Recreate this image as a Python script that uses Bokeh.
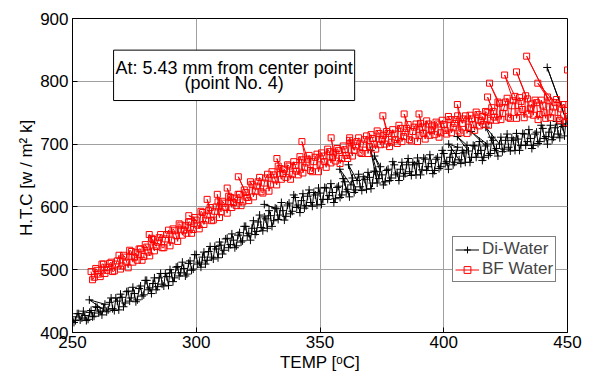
from bokeh.plotting import figure
from bokeh.models import Range1d, FixedTicker, Legend, LegendItem, Label
from bokeh.embed import file_html
from bokeh.resources import INLINE

FONT = "Liberation Sans"

x_ticks = [250, 300, 350, 400, 450]
y_ticks = [400, 500, 600, 700, 800, 900]

x_label_text = "TEMP [\u1d52C]"
y_label_text = "H.T.C  [w / m\u00b2 k]"
note_text = "At: 5.43 mm from center point\n(point No. 4)"
series_names = ["Di-Water", "BF Water"]

di_temp = [
    250.0, 250.6, 251.2, 251.9, 252.5, 253.1, 253.8, 254.4, 255.0, 255.6,
    256.3, 256.9, 257.5, 258.1, 258.7, 259.4, 260.0, 260.6, 261.2, 261.9,
    262.5, 263.1, 256.8, 263.8, 264.4, 265.0, 265.6, 266.2, 266.9, 267.5,
    268.1, 268.7, 269.4, 270.0, 270.6, 271.3, 271.9, 272.5, 273.1, 273.7,
    274.4, 275.0, 275.6, 276.2, 276.9, 277.5, 278.1, 278.8, 279.4, 280.0,
    280.6, 281.2, 281.9, 282.5, 283.1, 283.8, 284.4, 285.0, 285.6, 286.2,
    286.9, 287.5, 288.1, 288.8, 289.4, 290.0, 290.6, 291.2, 291.9, 292.5,
    293.1, 293.7, 294.4, 295.0, 295.6, 296.2, 296.9, 297.5, 298.1, 298.8,
    299.4, 300.0, 300.6, 301.3, 301.9, 302.5, 303.1, 303.7, 304.4, 305.0,
    305.6, 306.2, 306.9, 307.5, 308.1, 308.8, 309.4, 310.0, 310.6, 311.2,
    311.9, 312.5, 313.1, 313.8, 314.4, 315.0, 315.6, 316.2, 316.9, 317.5,
    318.1, 318.7, 319.4, 320.0, 320.6, 321.2, 321.9, 322.5, 323.1, 323.8,
    324.4, 325.0, 325.6, 326.2, 326.9, 327.5, 328.1, 328.7, 329.4, 330.0,
    330.6, 331.3, 331.9, 327.5, 332.5, 333.1, 333.7, 334.4, 335.0, 335.6,
    336.2, 336.9, 337.5, 338.1, 338.8, 339.4, 340.0, 340.6, 341.2, 341.9,
    342.5, 343.1, 343.7, 344.4, 345.0, 345.6, 346.3, 346.9, 347.5, 348.1,
    348.8, 349.4, 350.0, 350.6, 351.2, 351.9, 352.5, 353.1, 353.7, 354.4,
    355.0, 355.6, 356.2, 356.9, 357.5, 358.1, 358.8, 359.4, 360.0, 360.6,
    361.2, 361.9, 358.0, 362.5, 363.1, 363.8, 364.4, 361.5, 365.0, 365.6,
    366.2, 366.9, 367.5, 368.1, 368.8, 369.4, 370.0, 370.6, 371.2, 371.9,
    372.5, 373.1, 370.5, 373.8, 374.4, 372.0, 375.0, 375.6, 376.3, 376.9,
    377.5, 378.1, 378.7, 379.4, 380.0, 380.6, 381.2, 381.9, 382.5, 383.1,
    383.8, 384.4, 385.0, 385.6, 386.2, 386.9, 387.5, 388.1, 388.8, 389.4,
    390.0, 390.6, 391.2, 391.9, 392.5, 393.1, 393.7, 394.4, 395.0, 395.6,
    396.3, 396.9, 397.5, 398.1, 398.8, 399.4, 400.0, 400.6, 401.2, 401.9,
    402.5, 403.1, 403.8, 404.4, 405.0, 405.6, 402.0, 406.2, 406.9, 407.5,
    408.1, 408.7, 409.4, 405.5, 410.0, 410.6, 411.2, 411.9, 412.5, 413.1,
    413.8, 414.4, 415.0, 415.6, 416.2, 416.9, 411.0, 417.5, 418.1, 418.8,
    419.4, 420.0, 420.6, 421.3, 421.9, 417.0, 422.5, 423.1, 423.7, 424.4,
    425.0, 425.6, 426.2, 426.9, 427.5, 428.1, 428.8, 429.4, 430.0, 430.6,
    431.2, 431.9, 432.5, 433.1, 433.8, 434.4, 435.0, 435.6, 436.2, 436.9,
    437.5, 438.1, 438.8, 439.4, 440.0, 440.6, 441.3, 441.9, 442.5, 443.1,
    443.8, 444.4, 445.0, 445.6, 446.2, 446.9, 447.5, 448.1, 448.8, 449.4,
    441.8, 450.0,
]
di_htc = [
    425, 416, 419, 430, 430, 420, 423, 434, 427, 419,
    421, 432, 435, 425, 426, 441, 440, 431, 434, 428,
    439, 445, 452, 433, 436, 448, 455, 438, 435, 455,
    450, 436, 461, 456, 441, 447, 465, 466, 450, 455,
    472, 462, 449, 452, 470, 474, 458, 460, 483, 483,
    468, 471, 462, 478, 487, 468, 473, 487, 494, 477,
    474, 494, 489, 475, 500, 495, 481, 487, 504, 505,
    490, 495, 512, 502, 490, 493, 510, 514, 499, 501,
    524, 524, 509, 512, 504, 520, 528, 509, 515, 529,
    537, 520, 517, 537, 533, 519, 544, 539, 525, 531,
    549, 550, 535, 540, 557, 547, 535, 538, 555, 559,
    544, 546, 569, 569, 554, 558, 547, 566, 578, 556,
    561, 576, 587, 567, 562, 584, 581, 566, 594, 586,
    569, 578, 598, 604, 597, 580, 587, 607, 594, 579,
    585, 603, 606, 589, 593, 619, 615, 599, 603, 591,
    610, 621, 598, 602, 617, 627, 607, 601, 623, 619,
    603, 630, 622, 604, 612, 631, 630, 612, 618, 637,
    623, 607, 613, 631, 633, 615, 619, 645, 640, 624,
    628, 616, 660, 635, 646, 623, 627, 667, 642, 652,
    632, 626, 648, 644, 628, 655, 647, 629, 638, 657,
    656, 638, 690, 645, 664, 681, 651, 635, 640, 658,
    660, 642, 646, 672, 667, 651, 654, 642, 660, 671,
    649, 653, 667, 677, 656, 650, 671, 667, 651, 678,
    669, 651, 659, 678, 676, 658, 664, 683, 669, 653,
    658, 676, 679, 661, 664, 690, 685, 669, 672, 660,
    679, 690, 667, 671, 685, 695, 700, 675, 669, 690,
    686, 671, 698, 712, 689, 671, 679, 698, 697, 679,
    685, 704, 690, 674, 679, 697, 720, 700, 682, 685,
    711, 706, 690, 693, 681, 727, 700, 711, 688, 692,
    706, 716, 695, 689, 710, 706, 690, 717, 708, 690,
    698, 717, 716, 698, 704, 723, 709, 693, 698, 716,
    719, 701, 704, 730, 725, 709, 712, 700, 719, 730,
    707, 711, 726, 736, 716, 710, 732, 728, 713, 740,
    822, 732,
]

bf_temp = [
    257.5, 258.1, 258.8, 259.4, 260.0, 260.6, 261.2, 261.9, 262.5, 263.1,
    263.8, 264.4, 265.0, 265.6, 266.2, 266.9, 267.5, 268.1, 268.8, 269.4,
    270.0, 270.6, 271.2, 271.9, 272.5, 273.1, 273.8, 274.4, 275.0, 275.6,
    276.2, 276.9, 277.5, 278.1, 278.8, 279.4, 280.0, 280.6, 281.2, 281.9,
    282.5, 283.1, 281.0, 283.8, 284.4, 285.0, 285.6, 286.2, 286.9, 287.5,
    288.1, 288.8, 289.4, 290.0, 290.6, 291.2, 291.9, 292.5, 293.1, 293.8,
    294.4, 295.0, 295.6, 296.2, 296.9, 297.5, 298.1, 298.8, 299.4, 297.0,
    300.0, 300.6, 301.2, 301.9, 302.5, 303.1, 303.8, 304.4, 305.0, 305.6,
    304.4, 306.2, 306.9, 307.5, 308.1, 308.8, 309.4, 308.5, 310.0, 310.6,
    311.2, 311.9, 312.5, 313.1, 313.8, 314.4, 312.5, 315.0, 315.6, 316.2,
    316.9, 317.5, 318.1, 318.8, 319.4, 317.0, 320.0, 320.6, 321.2, 321.9,
    322.5, 323.1, 323.8, 324.4, 325.0, 325.6, 326.2, 326.9, 327.5, 328.1,
    328.8, 329.4, 330.0, 330.6, 331.2, 331.9, 332.5, 333.1, 333.8, 334.4,
    332.6, 335.0, 335.6, 336.2, 336.9, 337.5, 338.1, 338.8, 339.4, 340.0,
    340.6, 341.2, 341.9, 342.5, 343.1, 343.8, 344.4, 342.7, 345.0, 345.6,
    346.2, 346.9, 347.5, 348.1, 348.8, 349.4, 350.0, 350.6, 351.2, 351.9,
    352.5, 353.1, 353.8, 354.4, 355.0, 355.6, 354.5, 356.2, 356.9, 357.5,
    358.1, 358.8, 359.4, 360.0, 360.6, 361.2, 361.9, 362.5, 363.1, 362.0,
    363.8, 364.4, 365.0, 365.6, 366.2, 366.9, 367.5, 368.1, 368.8, 369.4,
    370.0, 370.6, 371.2, 371.9, 372.5, 373.1, 373.8, 374.4, 375.0, 375.6,
    376.2, 376.9, 375.4, 377.5, 378.1, 378.8, 379.4, 380.0, 380.6, 381.2,
    381.9, 382.5, 383.1, 383.8, 384.4, 385.0, 385.6, 384.0, 386.2, 386.9,
    387.5, 388.1, 388.8, 389.4, 390.0, 390.6, 391.2, 391.9, 390.0, 392.5,
    393.1, 393.8, 394.4, 395.0, 395.6, 396.2, 396.9, 397.5, 398.1, 398.8,
    399.4, 400.0, 400.6, 401.2, 401.9, 402.5, 403.1, 403.8, 404.4, 405.0,
    405.6, 406.2, 406.9, 405.5, 407.5, 408.1, 408.8, 409.4, 410.0, 410.6,
    411.2, 411.9, 412.5, 413.1, 413.8, 414.4, 415.0, 415.6, 416.2, 416.9,
    417.5, 418.1, 418.8, 419.4, 417.7, 420.0, 420.6, 421.2, 421.9, 418.5,
    422.5, 423.1, 423.8, 424.4, 425.0, 425.6, 426.2, 426.9, 427.5, 428.1,
    424.6, 428.8, 429.4, 430.0, 430.6, 431.2, 431.9, 432.5, 433.1, 429.4,
    433.8, 434.4, 435.0, 435.6, 436.2, 436.9, 437.5, 438.1, 438.8, 439.4,
    440.0, 440.6, 441.2, 441.9, 433.5, 442.5, 443.1, 443.8, 444.4, 438.0,
    445.0, 445.6, 446.2, 446.9, 447.5, 448.1, 448.8, 449.4, 450.0, 450.0,
]
bf_htc = [
    497, 484, 488, 502, 499, 493, 489, 509, 509, 494,
    499, 504, 510, 512, 497, 498, 509, 514, 523, 501,
    506, 523, 520, 512, 503, 531, 529, 512, 520, 527,
    515, 533, 533, 515, 521, 540, 536, 528, 522, 550,
    548, 530, 556, 537, 544, 551, 556, 535, 535, 549,
    556, 563, 538, 547, 565, 562, 554, 545, 573, 571,
    555, 563, 570, 558, 576, 576, 558, 564, 583, 586,
    579, 571, 565, 593, 591, 572, 579, 587, 594, 599,
    612, 578, 579, 593, 600, 608, 583, 620, 592, 609,
    606, 599, 590, 617, 615, 599, 630, 607, 614, 602,
    620, 620, 602, 608, 627, 648, 623, 615, 610, 640,
    636, 616, 625, 633, 640, 647, 624, 622, 638, 646,
    652, 625, 636, 656, 651, 643, 635, 665, 661, 644,
    677, 653, 660, 647, 667, 665, 644, 652, 672, 666,
    657, 651, 680, 675, 654, 663, 670, 704, 676, 682,
    658, 656, 672, 679, 684, 656, 667, 686, 681, 672,
    663, 692, 688, 670, 679, 686, 710, 673, 693, 690,
    669, 677, 697, 691, 682, 677, 706, 702, 681, 710,
    690, 697, 704, 710, 687, 685, 700, 707, 713, 685,
    696, 715, 709, 700, 692, 721, 717, 699, 707, 714,
    700, 720, 745, 717, 696, 703, 723, 716, 707, 701,
    730, 725, 704, 712, 719, 725, 731, 748, 707, 705,
    720, 727, 732, 704, 714, 733, 727, 717, 748, 708,
    737, 732, 714, 722, 729, 715, 735, 732, 711, 718,
    738, 731, 722, 716, 744, 739, 718, 726, 733, 739,
    745, 721, 718, 763, 733, 740, 745, 717, 727, 746,
    740, 731, 722, 751, 747, 729, 737, 744, 731, 752,
    750, 730, 738, 758, 775, 752, 743, 738, 767, 797,
    765, 739, 749, 758, 767, 773, 743, 741, 761, 769,
    810, 776, 741, 752, 774, 768, 755, 742, 777, 815,
    772, 748, 757, 764, 746, 770, 766, 739, 747, 770,
    762, 750, 741, 775, 840, 769, 742, 751, 759, 797,
    766, 771, 741, 738, 756, 763, 763, 734, 744, 818,
]

p = figure(width=592, height=375, output_backend="svg", toolbar_location=None,
           x_range=Range1d(250, 450), y_range=Range1d(400, 900),
           min_border_left=72, min_border_right=25, min_border_top=18,
           min_border_bottom=43, background_fill_color="white",
           border_fill_color="white")
p.outline_line_color = "black"
p.outline_line_width = 1

for ax in (p.xaxis[0], p.yaxis[0]):
    ax.major_label_text_font = FONT
    ax.major_label_text_font_size = "17px"
    ax.major_label_text_color = "black"
    ax.axis_label_text_font = FONT
    ax.axis_label_text_font_size = "17px"
    ax.axis_label_text_font_style = "normal"
    ax.axis_label_text_color = "black"
    ax.axis_line_color = "black"
    ax.major_tick_in = 5
    ax.major_tick_out = 0
    ax.minor_tick_in = 0
    ax.minor_tick_out = 0
    ax.major_tick_line_color = "black"

p.xaxis.ticker = FixedTicker(ticks=x_ticks)
p.yaxis.ticker = FixedTicker(ticks=y_ticks)
p.xaxis.axis_label = x_label_text
p.yaxis.axis_label = y_label_text
p.xaxis.major_label_standoff = 3
p.xaxis.axis_label_standoff = 2
p.yaxis.major_label_standoff = 4
p.yaxis.axis_label_standoff = 1

p.xgrid.grid_line_color = "#a0a0a0"
p.ygrid.grid_line_color = "#a0a0a0"
p.xgrid.grid_line_width = 1
p.ygrid.grid_line_width = 1

bl = p.line(di_temp, di_htc, line_color="black", line_width=1)
bs = p.scatter(di_temp, di_htc, marker="cross", size=8, line_color="black", line_width=1)
rl = p.line(bf_temp, bf_htc, line_color="#ff0000", line_width=1)
rs = p.scatter(bf_temp, bf_htc, marker="square", size=6, line_color="#ff0000",
               fill_alpha=0, line_width=1)

legend = Legend(items=[LegendItem(label=series_names[0], renderers=[bl, bs]),
                       LegendItem(label=series_names[1], renderers=[rl, rs])],
                location=(380, 50), label_text_font=FONT, label_text_font_size="17px",
                label_height=17, glyph_height=17, glyph_width=24, label_standoff=3,
                spacing=0, padding=2, margin=0, border_line_color="black",
                border_line_width=1, background_fill_alpha=1)
p.add_layout(legend)

note = Label(x=315.3, y=809.5, text=note_text,
             text_align="center", text_baseline="middle", text_font=FONT,
             text_font_size="18px", text_line_height=0.72, text_color="black",
             border_line_color="black", border_line_width=1,
             background_fill_color="white", padding=(2, 8))
p.add_layout(note)

open("out.html", "w").write(file_html(p, INLINE))
